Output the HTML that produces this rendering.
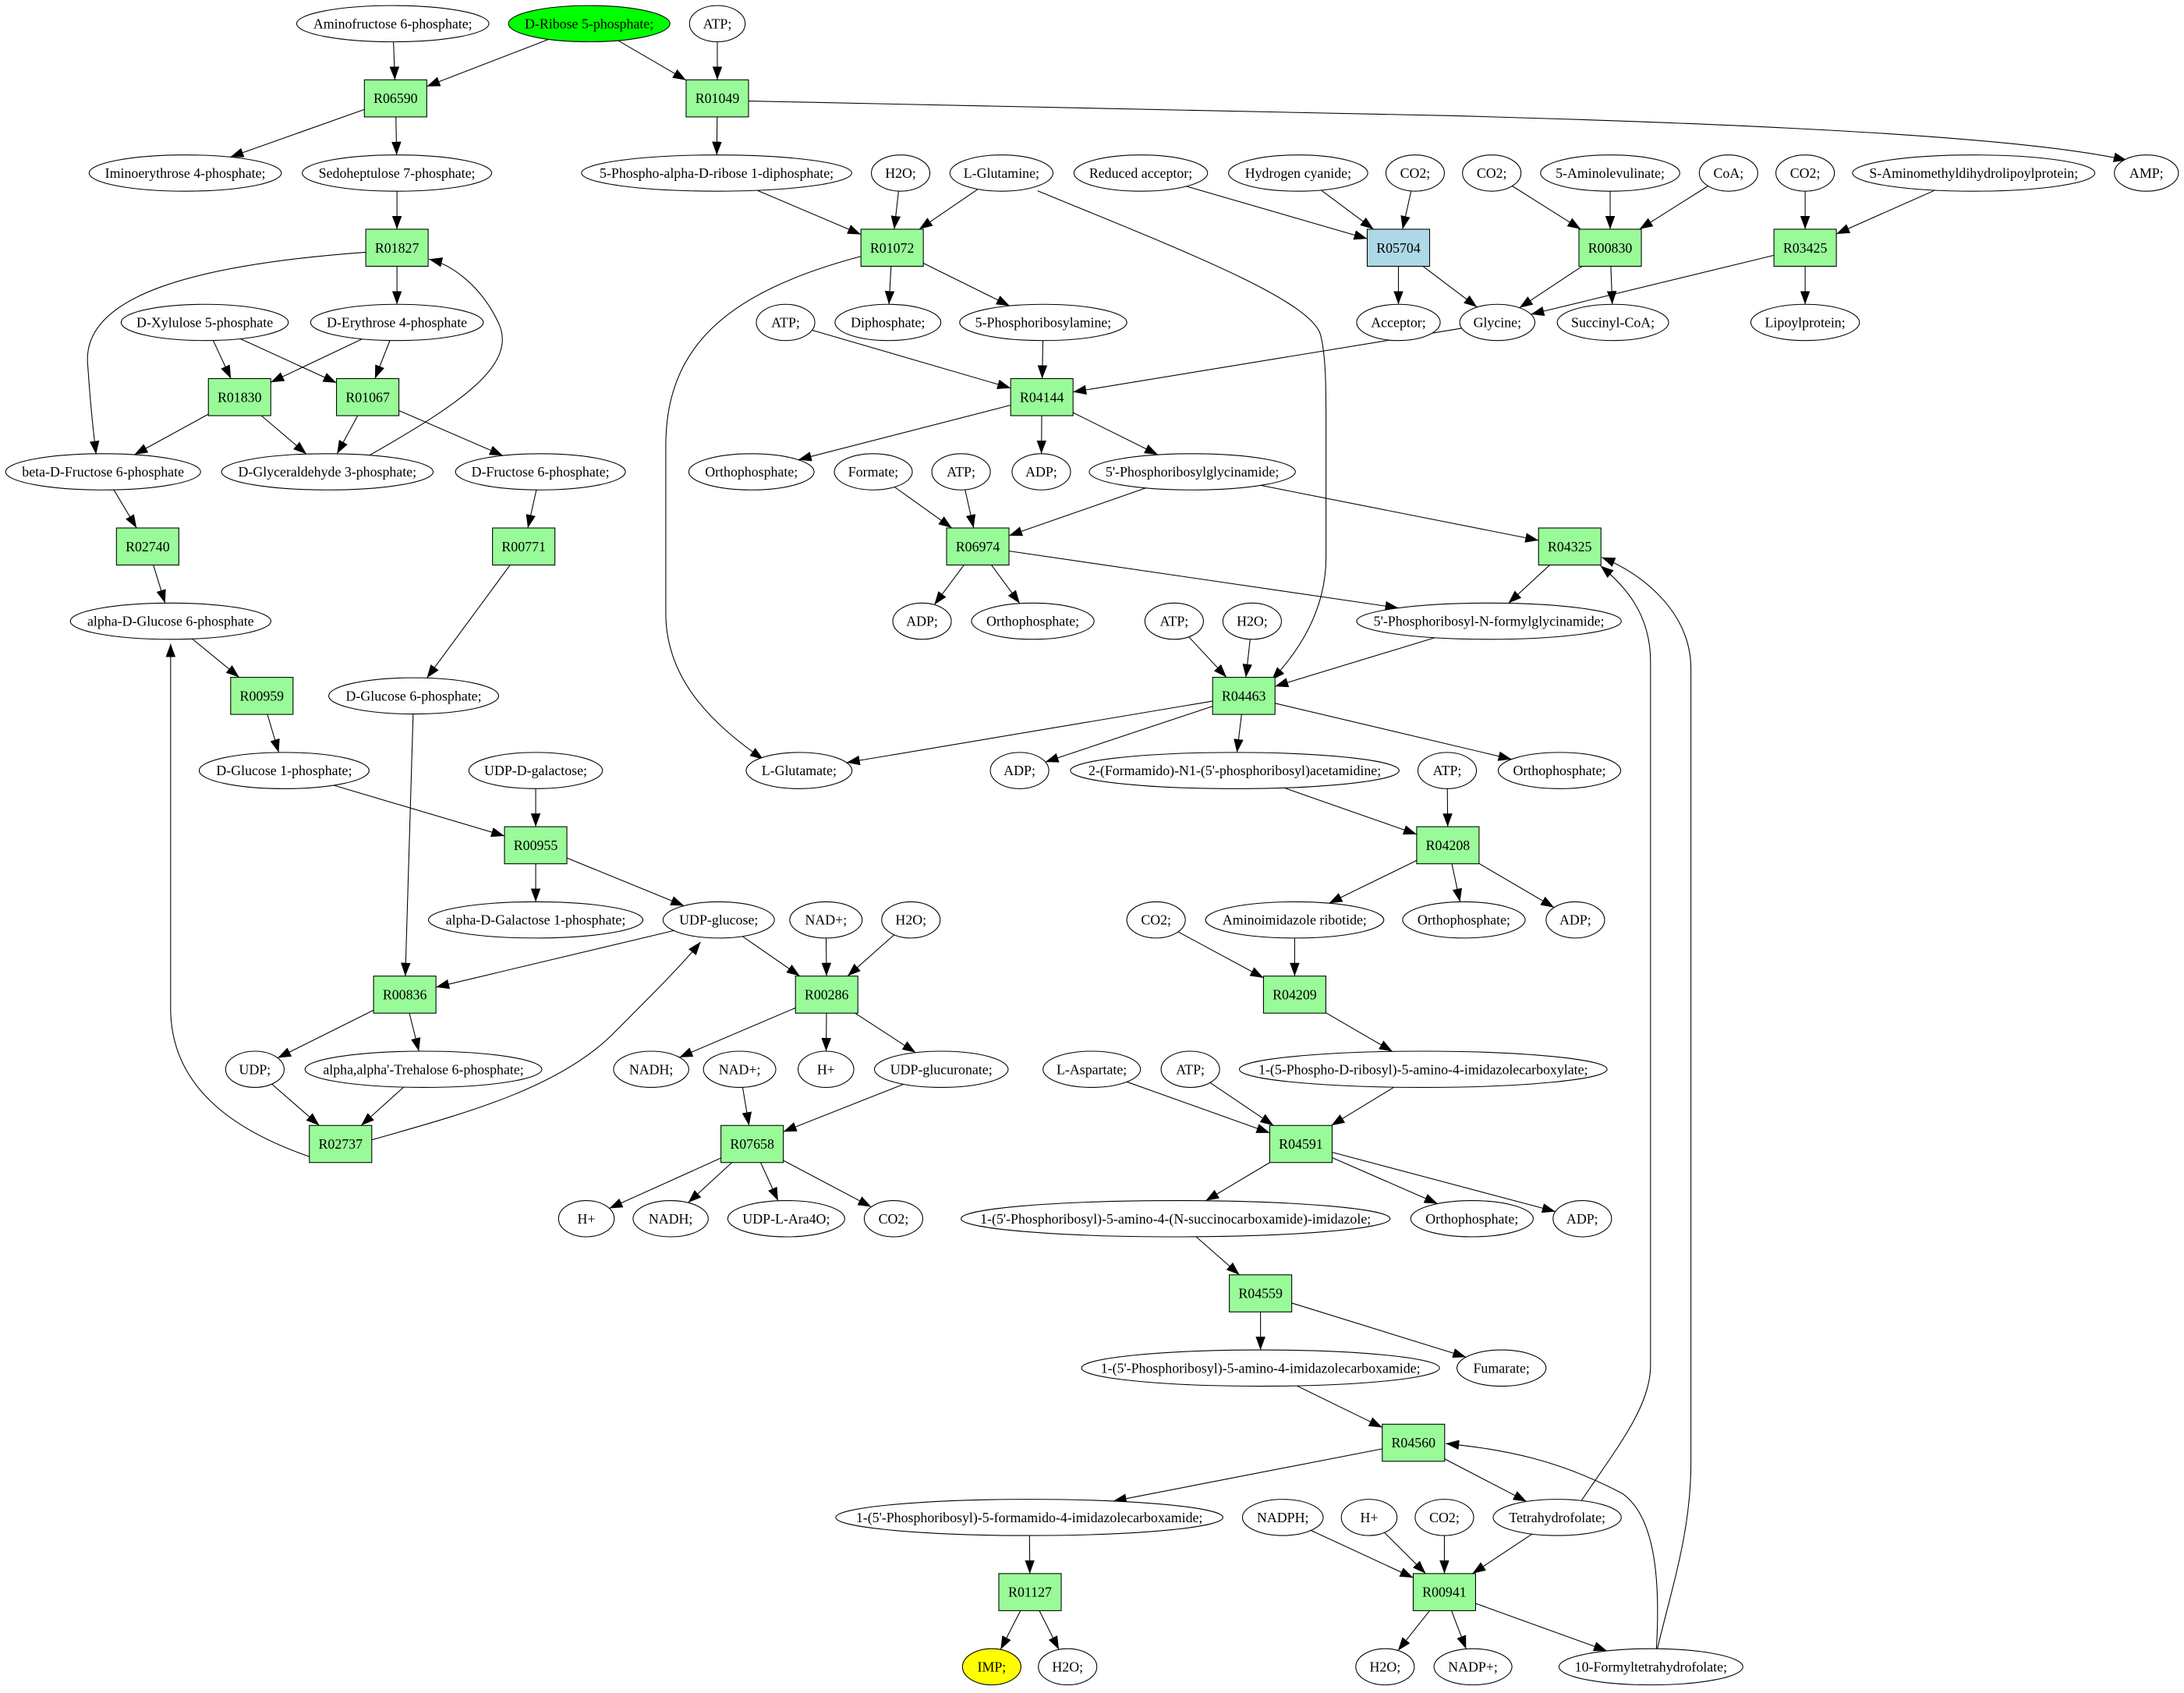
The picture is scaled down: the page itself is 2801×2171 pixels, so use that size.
<!DOCTYPE html>
<html><head><meta charset="utf-8">
<style>
html,body{margin:0;padding:0;background:#fff;}
svg{display:block;}
text{font-family:"Liberation Serif","Times New Roman",serif;font-size:10px;fill:#000;}
</style></head>
<body>
<svg id="g" xmlns="http://www.w3.org/2000/svg" width="2801" height="2171" viewBox="0 0 1568 1215" preserveAspectRatio="none">
<defs>
<marker id="ar" markerUnits="userSpaceOnUse" markerWidth="10" markerHeight="8" refX="9.5" refY="3.5" orient="auto">
<path d="M0,0 L9.5,3.5 L0,7 Z" fill="#000"/>
</marker>
</defs>
<rect width="1568" height="1215" fill="#fff"/>
<g id="edges"></g>
<g id="nodes"></g>
</svg>
<script>
var Y=function(k){return 17+53.6*k;};
var N={};
function E(id,l,x,r,rx,f){N[id]={t:'e',l:l,x:x,y:Y(r),rx:rx,ry:13,f:f||'#fff'};}
function B(id,x,r,f){N[id]={t:'b',l:id,x:x,y:Y(r),w:44.8,h:26.6,f:f||'#98fb98'};}
E('af','Aminofructose 6-phosphate;',282,0,69);
E('rib','D-Ribose 5-phosphate;',423,0,58,'#00ff00');
E('atp0','ATP;',515,0,20);
B('R06590',284,1);B('R01049',515,1);
E('amp','AMP;',1541,2,23);E('imino','Iminoerythrose 4-phosphate;',133,2,69);
E('sedo','Sedoheptulose 7-phosphate;',285,2,68);E('prpp','5-Phospho-alpha-D-ribose 1-diphosphate;',514.5,2,97);
E('h2oa','H2O;',646.6,2,21);E('gln','L-Glutamine;',719,2,37);E('redacc','Reduced acceptor;',819,2,48);
E('hcn','Hydrogen cyanide;',932,2,50);E('co2a','CO2;',1016,2,21);E('co2b','CO2;',1071,2,21);
E('ala','5-Aminolevulinate;',1156,2,50);E('coa','CoA;',1241,2,21);E('co2c','CO2;',1296,2,21);
E('sam','S-Aminomethyldihydrolipoylprotein;',1417,2,87);
B('R01827',285,3);B('R01072',640.5,3);B('R05704',1004,3,'#add8e6');B('R00830',1156,3);B('R03425',1296,3);
E('xyl','D-Xylulose 5-phosphate',147,4,60);E('ery','D-Erythrose 4-phosphate',285,4,62);
E('atpb','ATP;',564,4,21);E('diph','Diphosphate;',637.5,4,38);E('pra','5-Phosphoribosylamine;',749,4,60);
E('acc','Acceptor;',1004,4,30);E('gly','Glycine;',1075,4,27);E('succ','Succinyl-CoA;',1158,4,40);E('lip','Lipoylprotein;',1296,4,39);
B('R01830',172,5);B('R01067',264,5);B('R04144',748,5);
E('bfru','beta-D-Fructose 6-phosphate',74,6,70);E('gap','D-Glyceraldehyde 3-phosphate;',235,6,76);
E('f6p','D-Fructose 6-phosphate;',388,6,61);E('orthoa','Orthophosphate;',539.5,6,45);
E('adpa','ADP;',747.6,6,21);E('gar',"5'-Phosphoribosylglycinamide;",856,6,74);
E('formate','Formate;',627,6,28);E('atpc','ATP;',690,6,21);
B('R02740',106,7);B('R00771',376,7);B('R06974',702,7);B('R04325',1127,7);
E('ag6p','alpha-D-Glucose 6-phosphate',122.5,8,72);E('adpb','ADP;',662,8,21);E('orthob','Orthophosphate;',741.5,8,44);
E('fgar',"5'-Phosphoribosyl-N-formylglycinamide;",1069,8,95);E('atpd','ATP;',843,8,21);E('h2ob','H2O;',899,8,21);
B('R00959',188,9);E('g6p','D-Glucose 6-phosphate;',297,9,61);B('R04463',893,9);
E('g1p','D-Glucose 1-phosphate;',204,10,61);E('udpgal','UDP-D-galactose;',384.6,10,48);E('glu','L-Glutamate;',573.7,10,38);
E('adpc','ADP;',732,10,21);E('fgam',"2-(Formamido)-N1-(5'-phosphoribosyl)acetamidine;",886.5,10,118);
E('atpe','ATP;',1039,10,21);E('orthoc','Orthophosphate;',1119.6,10,44);
B('R00955',384.6,11);B('R04208',1039.5,11);
E('agal','alpha-D-Galactose 1-phosphate;',384.6,12,77);E('udpglc','UDP-glucose;',516,12,40);
E('nada','NAD+;',593,12,26);E('h2oc','H2O;',654,12,21);E('co2d','CO2;',830,12,21);
E('air','Aminoimidazole ribotide;',929.5,12,64);E('orthod','Orthophosphate;',1051,12,44);E('adpd','ADP;',1131,12,21);
B('R00836',290.6,13);B('R00286',593.5,13);B('R04209',929.5,13);
E('udp','UDP;',183,14,21);E('treh',"alpha,alpha'-Trehalose 6-phosphate;",304,14,85);
E('nadha','NADH;',467.5,14,27);E('nadb','NAD+;',531,14,26);E('hpa','H+',593,14,20);
E('udpglca','UDP-glucuronate;',675.8,14,48);E('asp','L-Aspartate;',783.8,14,35);E('atpf','ATP;',854.6,14,21);
E('cair','1-(5-Phospho-D-ribosyl)-5-amino-4-imidazolecarboxylate;',1021.8,14,132);
B('R02737',244.5,15);B('R07658',540,15);B('R04591',934,15);
E('hpb','H+',421,16,20);E('nadhb','NADH;',481.5,16,27);E('ara','UDP-L-Ara4O;',564.5,16,42);E('co2e','CO2;',641.5,16,21);
E('saicar',"1-(5'-Phosphoribosyl)-5-amino-4-(N-succinocarboxamide)-imidazole;",844,16,154);
E('orthoe','Orthophosphate;',1056.8,16,44);E('adpe','ADP;',1136,16,21);
B('R04559',905,17);
E('aicar',"1-(5'-Phosphoribosyl)-5-amino-4-imidazolecarboxamide;",905,18,128.5);E('fum','Fumarate;',1078,18,32);
B('R04560',1014.8,19);
E('faicar',"1-(5'-Phosphoribosyl)-5-formamido-4-imidazolecarboxamide;",739,20,139);
E('nadph','NADPH;',921,20,29);E('hpc','H+',983,20,20);E('co2f','CO2;',1037,20,21);E('thf','Tetrahydrofolate;',1118,20,46);
B('R01127',739.5,21);B('R00941',1037,21);
E('imp','IMP;',712,22,21,'#ffff00');E('h2od','H2O;',766.5,22,21);E('h2oe','H2O;',994.4,22,21);
E('nadp','NADP+;',1057.5,22,28);E('fthf','10-Formyltetrahydrofolate;',1185.3,22,66);

var edges=[
['af','R06590'],['rib','R06590'],['rib','R01049'],['atp0','R01049'],['R06590','imino'],['R06590','sedo'],['R01049','prpp'],
['sedo','R01827'],['R01827','ery'],['xyl','R01830'],['xyl','R01067'],['ery','R01830'],['ery','R01067'],
['R01830','bfru'],['R01830','gap'],['R01067','gap'],['R01067','f6p'],['bfru','R02740'],['R02740','ag6p'],['f6p','R00771'],['R00771','g6p'],
['ag6p','R00959'],['R00959','g1p'],['g1p','R00955'],['udpgal','R00955'],['R00955','agal'],['R00955','udpglc'],
['g6p','R00836'],['udpglc','R00836'],['R00836','udp'],['R00836','treh'],['udp','R02737'],['treh','R02737'],
['udpglc','R00286'],['nada','R00286'],['h2oc','R00286'],['R00286','nadha'],['R00286','hpa'],['R00286','udpglca'],
['udpglca','R07658'],['nadb','R07658'],['R07658','hpb'],['R07658','nadhb'],['R07658','ara'],['R07658','co2e'],
['prpp','R01072'],['h2oa','R01072'],['gln','R01072'],['R01072','diph'],['R01072','pra'],
['redacc','R05704'],['hcn','R05704'],['co2a','R05704'],['R05704','acc'],['R05704','gly'],
['co2b','R00830'],['ala','R00830'],['coa','R00830'],['R00830','gly'],['R00830','succ'],
['co2c','R03425'],['sam','R03425'],['R03425','gly'],['R03425','lip'],
['atpb','R04144'],['pra','R04144'],['gly','R04144'],['R04144','orthoa'],['R04144','adpa'],['R04144','gar'],
['gar','R06974'],['gar','R04325'],['formate','R06974'],['atpc','R06974'],['R06974','adpb'],['R06974','orthob'],['R06974','fgar'],
['R04325','fgar'],['fgar','R04463'],['atpd','R04463'],['h2ob','R04463'],['R04463','glu'],['R04463','adpc'],['R04463','fgam'],['R04463','orthoc'],
['fgam','R04208'],['atpe','R04208'],['R04208','air'],['R04208','orthod'],['R04208','adpd'],
['co2d','R04209'],['air','R04209'],['R04209','cair'],['cair','R04591'],['asp','R04591'],['atpf','R04591'],
['R04591','saicar'],['R04591','orthoe'],['R04591','adpe'],['saicar','R04559'],['R04559','aicar'],['R04559','fum'],
['aicar','R04560'],['R04560','faicar'],['R04560','thf'],['faicar','R01127'],['R01127','imp'],['R01127','h2od'],
['nadph','R00941'],['hpc','R00941'],['co2f','R00941'],['thf','R00941'],['R00941','h2oe'],['R00941','nadp'],['R00941','fthf']
];
var curves=[
'M537.5 72.5 L1040 83 C1300 90 1460 100 1527 115',
'M262.6 181 C140 190 58 212 63 262 C65 292 67 310 69 326',
'M263 328 C330 290 372 262 358 232 C346 206 325 190 308 186',
'M222 830 C170 812 124 782 122.5 726 L122.5 462',
'M267 818 C330 800 400 782 440 742 C470 712 490 692 503 676',
'M618 184 C520 210 478 250 478 320 L478 440 C478 490 515 522 548 545',
'M745 137 C850 180 940 215 948 240 C952 255 952 280 952 300 L952 400 C952 440 930 470 913 488',
'M1134 1079 C1160 1040 1185 1010 1185 980 L1185 475 C1185 440 1166 420 1149 406',
'M1189 1187 C1200 1140 1214 1100 1214 1050 L1214 480 C1214 440 1180 412 1150 400',
'M1189 1187 C1192 1140 1190 1090 1165 1072 C1120 1048 1080 1040 1038 1036'
];
function clip(n,tx,ty){
  var dx=tx-n.x,dy=ty-n.y;
  if(n.t==='e'){var s=1/Math.sqrt(dx*dx/(n.rx*n.rx)+dy*dy/(n.ry*n.ry));return [n.x+dx*s,n.y+dy*s];}
  var hw=n.w/2,hh=n.h/2;var s=Math.min(dx?hw/Math.abs(dx):1e9,dy?hh/Math.abs(dy):1e9);return [n.x+dx*s,n.y+dy*s];
}
var ns='http://www.w3.org/2000/svg';
var eg=document.getElementById('edges'),ng=document.getElementById('nodes');
function el(tag,attrs,par){var e=document.createElementNS(ns,tag);for(var k in attrs)e.setAttribute(k,attrs[k]);par.appendChild(e);return e;}
edges.forEach(function(p){
  var a=N[p[0]],b=N[p[1]];
  var s=clip(a,b.x,b.y),t=clip(b,a.x,a.y);
  el('line',{x1:s[0],y1:s[1],x2:t[0],y2:t[1],stroke:'#000','stroke-width':0.6,'marker-end':'url(#ar)'},eg);
});
curves.forEach(function(d){el('path',{d:d,fill:'none',stroke:'#000','stroke-width':0.6,'marker-end':'url(#ar)'},eg);});
for(var k in N){var n=N[k];
  if(n.t==='e')el('ellipse',{cx:n.x,cy:n.y,rx:n.rx,ry:n.ry,fill:n.f,stroke:'#000','stroke-width':0.6},ng);
  else el('rect',{x:n.x-n.w/2,y:n.y-n.h/2,width:n.w,height:n.h,fill:n.f,stroke:'#000','stroke-width':0.6},ng);
  var tx=el('text',{x:n.x,y:n.y+3.4,'text-anchor':'middle'},ng);tx.textContent=n.l;
  var maxw=(n.t==='e'?n.rx*2-8:n.w-6);
  try{var w=tx.getComputedTextLength();if(w>maxw)tx.setAttribute('textLength',maxw),tx.setAttribute('lengthAdjust','spacingAndGlyphs');}catch(e){}
}
</script>
</body></html>
